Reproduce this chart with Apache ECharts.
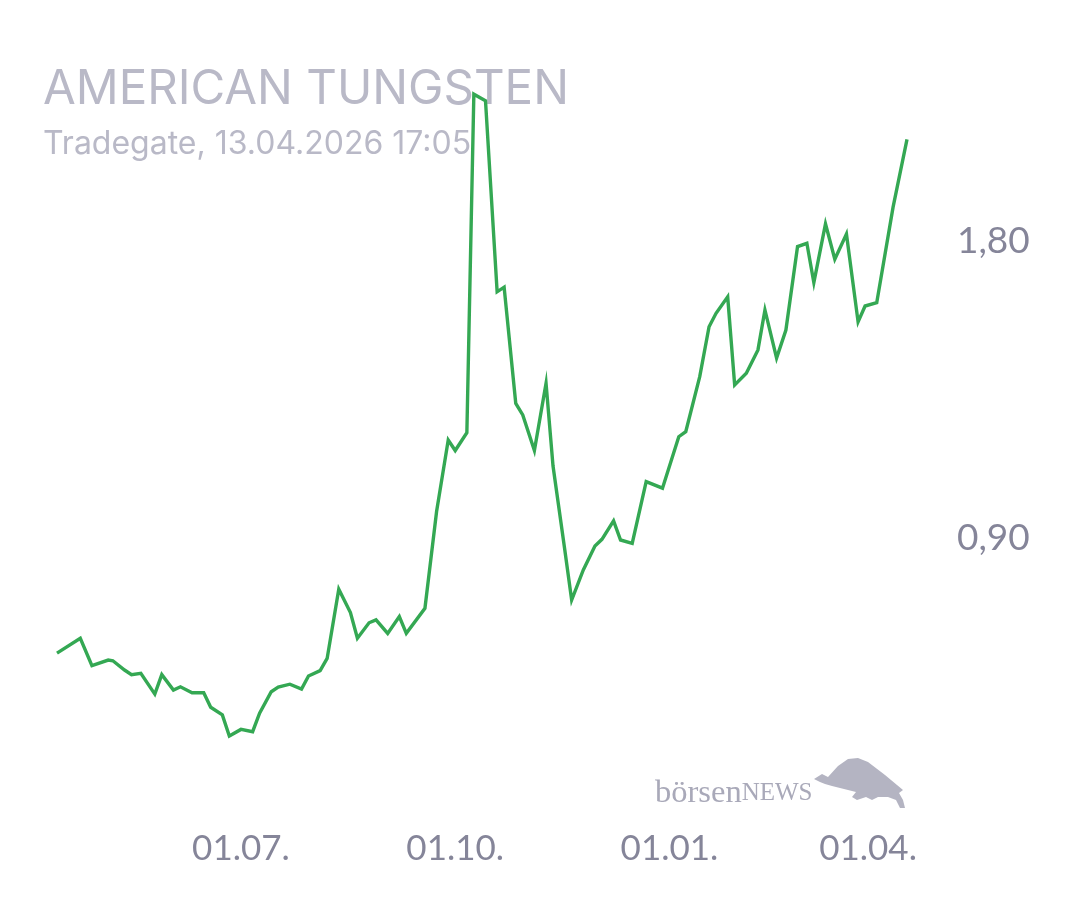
<!DOCTYPE html>
<html>
<head>
<meta charset="utf-8">
<script src="https://cdn.jsdelivr.net/npm/echarts@6/dist/echarts.min.js"></script>
<style>html,body{margin:0;padding:0;background:#fff}#c{width:1080px;height:900px}</style>
</head>
<body>
<div id="c"></div>
<script>
const dates = ['2025-04-13','2025-04-23','2025-04-28','2025-05-05','2025-05-07','2025-05-12','2025-05-15','2025-05-19','2025-05-25','2025-05-28',
'2025-06-02','2025-06-05','2025-06-10','2025-06-15','2025-06-18','2025-06-23','2025-06-26','2025-07-01','2025-07-06','2025-07-09',
'2025-07-14','2025-07-17','2025-07-22','2025-07-27','2025-07-30','2025-08-04','2025-08-07','2025-08-12','2025-08-17','2025-08-20',
'2025-08-25','2025-08-28','2025-09-02','2025-09-07','2025-09-10','2025-09-18','2025-09-23','2025-09-28','2025-10-01','2025-10-06',
'2025-10-09','2025-10-14','2025-10-19','2025-10-22','2025-10-27','2025-10-30','2025-11-04','2025-11-09','2025-11-12','2025-11-17',
'2025-11-20','2025-11-25','2025-11-30','2025-12-03','2025-12-08','2025-12-11','2025-12-16','2025-12-22','2025-12-29','2026-01-05',
'2026-01-08','2026-01-14','2026-01-18','2026-01-21','2026-01-26','2026-01-29','2026-02-03','2026-02-08','2026-02-11','2026-02-16',
'2026-02-20','2026-02-25','2026-03-01','2026-03-04','2026-03-09','2026-03-13','2026-03-18','2026-03-23','2026-03-26','2026-03-31',
'2026-04-07','2026-04-13'];
const prices = [0.551,0.596,0.513,0.530,0.528,0.500,0.486,0.490,0.427,0.486,
0.439,0.449,0.431,0.431,0.387,0.364,0.300,0.320,0.313,0.369,
0.434,0.448,0.457,0.442,0.482,0.498,0.535,0.745,0.674,0.596,
0.643,0.652,0.611,0.662,0.611,0.687,0.980,1.197,1.165,1.219,
2.245,2.225,1.646,1.660,1.308,1.273,1.165,1.369,1.118,0.867,
0.712,0.803,0.876,0.896,0.952,0.894,0.884,1.071,1.051,1.207,
1.222,1.389,1.540,1.581,1.631,1.364,1.399,1.470,1.591,1.445,
1.530,1.783,1.793,1.674,1.852,1.745,1.821,1.555,1.603,1.613,
1.902,2.108];
const xTickDates = ['2025-07-01','2025-10-01','2026-01-01','2026-04-01'];
const xTickLabels = ['01.07.','01.10.','01.01.','01.04.'];
const yTickValues = [0.9, 1.8];
const titleText = 'AMERICAN TUNGSTEN';
const subtitleText = 'Tradegate, 13.04.2026 17:05';

const ts = s => new Date(s + 'T00:00:00').getTime();
const xTicks = xTickDates.map(ts);

const chart = echarts.init(document.getElementById('c'), null, {renderer: 'canvas'});
chart.setOption({
  animation: false,
  backgroundColor: '#ffffff',
  title: {
    text: titleText, subtext: subtitleText,
    left: 38, top: 61, itemGap: 14, z: 0,
    textStyle: {fontFamily: 'Inter', fontSize: 47.5, fontWeight: 'normal', color: '#b9b9c7'},
    subtextStyle: {fontFamily: 'Inter', fontSize: 32, color: '#b9b9c7'}
  },
  grid: {left: 57, right: 173, top: 43, bottom: 65, containLabel: false},
  xAxis: {
    type: 'value', min: ts(dates[0]), max: ts(dates[dates.length - 1]),
    axisLine: {show: false}, axisTick: {show: false}, splitLine: {show: false},
    axisLabel: {
      customValues: xTicks, margin: -4, showMinLabel: true, showMaxLabel: true,
      fontFamily: 'Lato', fontSize: 35, color: '#858599',
      formatter: v => {
        const i = xTicks.indexOf(v);
        if (i < 0) return '';
        return i === xTicks.length - 1 ? '{p|' + xTickLabels[i] + '}' : xTickLabels[i];
      },
      rich: {p: {fontFamily: 'Lato', fontSize: 35, color: '#858599', padding: [0, 22, 0, 0]}}
    }
  },
  yAxis: {
    type: 'value', position: 'right', min: 0, max: 2.4,
    axisLine: {show: false}, axisTick: {show: false}, splitLine: {show: false},
    axisLabel: {
      customValues: yTickValues, margin: 50,
      fontFamily: 'Lato', fontSize: 37, color: '#858599',
      formatter: v => v.toFixed(2).replace('.', ',')
    }
  },
  series: [{
    type: 'line', z: 5,
    data: dates.map((d, i) => [ts(d), prices[i]]),
    showSymbol: false, symbol: 'none',
    lineStyle: {color: '#34a853', width: 3.4, join: 'miter'},
    itemStyle: {color: '#34a853'}
  }],
  graphic: [
    {type: 'text', x: 655, y: 777, z: 1,
     style: {text: '{a|börsen}{b|NEWS}', fill: '#a9a9b9',
       rich: {a: {fontFamily: 'Liberation Serif', fontSize: 32.5, fill: '#a9a9b9'},
              b: {fontFamily: 'Liberation Serif', fontSize: 25, fill: '#a9a9b9'}}}},
    {type: 'polygon', z: 1,
     shape: {points: [[814,779],[822,774],[828,777],[838,766],[848,759],[858,758],[868,762],[885,775],[897,785],[903,790],[899,793],[903,800],[905,808],[900,808],[896,800],[888,797],[878,797],[872,800],[866,797],[857,800],[852,797],[856,792],[848,790],[840,788],[832,786],[825,784],[820,782]]},
     style: {fill: '#b4b4c2'}}
  ]
});
</script>
</body>
</html>
